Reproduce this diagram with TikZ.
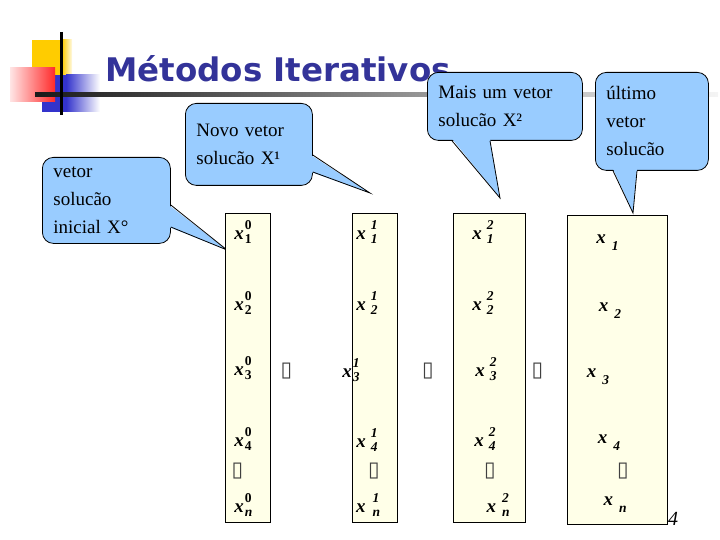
\documentclass[tikz,border=0pt]{standalone}
\usepackage{fontspec}
\setmainfont{Liberation Serif}
\newfontfamily\titlefont{DejaVu Sans}
\newfontfamily\glyphfont{DejaVu Sans}
\usetikzlibrary{positioning,calc}
\definecolor{TitleBlue}{HTML}{333399}
\definecolor{BubbleBlue}{HTML}{99CCFF}
\definecolor{ColumnCream}{HTML}{FFFFE8}
\definecolor{LogoYellow}{HTML}{FFCC00}
\definecolor{LogoRed}{HTML}{FF2A2A}
\definecolor{LogoBlue}{HTML}{3333CC}
\newcommand{\bfit}[1]{\textbf{\textit{#1}}}
\newcommand{\smallscript}{\fontsize{13.5}{13.5}\selectfont}
\newcommand{\xpair}[3][1pt]{\bfit{x}\hspace{#1}\rlap{\raisebox{10pt}{\smallscript #2}}\raisebox{-3.5pt}{\smallscript #3}}
\newcommand{\xlast}[1]{\bfit{x}\hspace{6pt}\raisebox{-7pt}{\smallscript #1}}

\begin{document}
\begin{tikzpicture}[
  x=1pt, y=-1pt,
  bubble/.style={draw, line width=0.8pt, fill=BubbleBlue, rounded corners=11pt, anchor=north west,
    align=left, inner xsep=11pt, inner ysep=0pt, font=\fontsize{19}{28}\selectfont},
  column/.style={draw, line width=0.8pt, fill=ColumnCream, anchor=north west, inner sep=0pt},
  entry/.style={inner sep=0pt, font=\fontsize{19}{20}\selectfont},
  gap/.style={inner sep=0pt, text=black!75, font=\glyphfont\fontsize{21}{21}\selectfont},
  pointer/.style={line width=0.8pt, line join=miter}
]
\useasboundingbox (0,0) rectangle (720,540);

% logo
\fill[LogoYellow] (32,40) rectangle (62,75);
\shade[left color=LogoYellow, right color=LogoYellow!10] (62,40) rectangle (72,75);
\fill[LogoBlue] (42,75) rectangle (66,112);
\shade[left color=LogoBlue, right color=white] (66,75) rectangle (100,112);
\shade[left color=LogoRed!12, right color=LogoRed] (10,68) rectangle (55,102);
\shade[left color=black!90, middle color=black!45, right color=black!4] (35,93) rectangle (718,97);
\draw[line width=3pt] (61,32) -- (61,115);

\node[anchor=base west, inner sep=0pt, text=TitleBlue, font=\titlefont\bfseries\fontsize{32.5}{32.5}\selectfont]
  (title) at (105,82) {Métodos Iterativos};

% callouts
\node[bubble, minimum width=128pt, minimum height=86pt, text width=106pt] (inicial) at (42,157)
  {vetor\\solucão\\inicial X°};
\node[bubble, minimum width=127pt, minimum height=82pt, text width=105pt] (novo) at (185,103)
  {Novo vetor\\solucão X¹};
\node[bubble, minimum width=155pt, minimum height=68pt, text width=133pt] (mais) at (427,72)
  {Mais um vetor\\solucão X²};
\node[bubble, minimum width=113pt, minimum height=98pt, text width=91pt] (ultimo) at (595,72)
  {último\\vetor\\solucão};

\coordinate (tip0) at (227,250);
\coordinate (tip1) at (370,193);
\coordinate (tip2) at (500,198);
\coordinate (tip3) at (633,213);

\fill[BubbleBlue] ($(inicial.north east)+(-2,48)$) -- (tip0) -- ($(inicial.north east)+(-2,70)$) -- cycle;
\draw[pointer] ($(inicial.north east)+(0,48)$) -- (tip0) -- ($(inicial.north east)+(0,70)$);
\fill[BubbleBlue] ($(novo.north east)+(-2,52)$) -- (tip1) -- ($(novo.north east)+(-2,69)$) -- cycle;
\draw[pointer] ($(novo.north east)+(0,52)$) -- (tip1) -- ($(novo.north east)+(0,69)$);
\fill[BubbleBlue] ($(mais.south west)+(25,-2)$) -- (tip2) -- ($(mais.south west)+(63,-2)$) -- cycle;
\draw[pointer] ($(mais.south west)+(25,0)$) -- (tip2) -- ($(mais.south west)+(63,0)$);
\fill[BubbleBlue] ($(ultimo.south west)+(18,-2)$) -- (tip3) -- ($(ultimo.south west)+(42,-2)$) -- cycle;
\draw[pointer] ($(ultimo.south west)+(18,0)$) -- (tip3) -- ($(ultimo.south west)+(42,0)$);

% vectors
\node[column, minimum width=45pt, minimum height=309pt] (col0) at (225,213) {};
\node[column, minimum width=45pt, minimum height=309pt] (col1) at (352,213) {};
\node[column, minimum width=72pt, minimum height=309pt] (col2) at (453,213) {};
\node[column, minimum width=100pt, minimum height=309pt] (col3) at (567,215) {};

\node[entry] (x01) at (243,232) {\xpair{\textbf{0}}{\textbf{1}}};
\node[entry] (x02) at (243,303) {\xpair{\textbf{0}}{\textbf{2}}};
\node[entry] (x03) at (243,368) {\xpair{\textbf{0}}{\textbf{3}}};
\node[entry] (x04) at (243,439) {\xpair{\textbf{0}}{\textbf{4}}};
\node[gap] (g0) at (237.5,471.5) {▯};
\node[entry] (x0n) at (243.5,505) {\xpair{\textbf{0}}{\bfit{n}}};

\node[entry] (x11) at (367,232) {\xpair[5pt]{\bfit{1}}{\bfit{1}}};
\node[entry] (x12) at (367,303) {\xpair[5pt]{\bfit{1}}{\bfit{2}}};
\node[entry] (x13) at (351,370) {\xpair{\bfit{1}}{\bfit{3}}};
\node[entry] (x14) at (367,440) {\xpair[5pt]{\bfit{1}}{\bfit{4}}};
\node[gap] (g1) at (374,471.5) {▯};
\node[entry] (x1n) at (368,505) {\xpair[7pt]{\bfit{1}}{\bfit{n}}};

\node[entry] (x21) at (483,232) {\xpair[5pt]{\bfit{2}}{\bfit{1}}};
\node[entry] (x22) at (483,303) {\xpair[5pt]{\bfit{2}}{\bfit{2}}};
\node[entry] (x23) at (486,369) {\xpair[5pt]{\bfit{2}}{\bfit{3}}};
\node[entry] (x24) at (485,439) {\xpair[5pt]{\bfit{2}}{\bfit{4}}};
\node[gap] (g2) at (490,471.5) {▯};
\node[entry] (x2n) at (498,505) {\xpair[6pt]{\bfit{2}}{\bfit{n}}};

\node[entry] (x1) at (607.5,242.5) {\xlast{\bfit{1}}};
\node[entry] (x2) at (610,311) {\xlast{\bfit{2}}};
\node[entry] (x3) at (598,377) {\xlast{\bfit{3}}};
\node[entry] (x4) at (609,443) {\xlast{\bfit{4}}};
\node[gap] (g3) at (623,471.5) {▯};
\node[entry] (xn) at (615,505) {\xlast{\bfit{n}}};

\node[gap] (s01) at (286.5,371.5) {▯};
\node[gap] (s12) at (428,371.5) {▯};
\node[gap] (s23) at (537.5,371.5) {▯};

\node[inner sep=0pt, font=\itshape\fontsize{20}{20}\selectfont] (page) at (673,519) {4};
\end{tikzpicture}
\end{document}
